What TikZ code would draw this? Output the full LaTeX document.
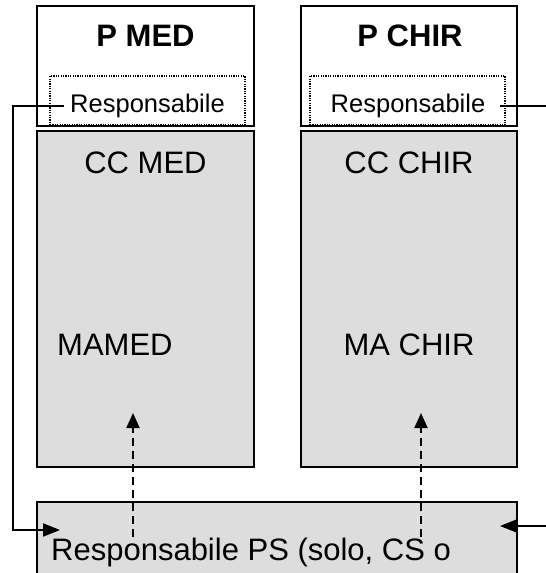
\documentclass[tikz,border=0pt]{standalone}
\usepackage{fontspec}
\setmainfont{Liberation Sans}
\usetikzlibrary{arrows.meta}
\definecolor{boxgrey}{HTML}{DDDDDD}
\begin{document}
\begin{tikzpicture}[x=1pt,y=-1pt,
  box/.style={draw, line width=2pt, inner sep=0pt, fill=white},
  greybox/.style={box, fill=boxgrey},
  dotbox/.style={draw, line width=1.2pt, dash pattern=on 1.2pt off 1.2pt, inner sep=0pt},
  big/.style={inner sep=0pt, anchor=base, font=\fontsize{31}{31}\selectfont},
  bigbold/.style={inner sep=0pt, anchor=base, font=\fontsize{31}{31}\selectfont\bfseries},
  small/.style={inner sep=0pt, font=\fontsize{25.5}{25.5}\selectfont},
  conn/.style={line width=2pt},
  tip/.style={-{Triangle[length=17pt,width=13pt]}},
  dashtip/.style={line width=2pt, dash pattern=on 8pt off 5pt,
                  -{Triangle[length=15pt,width=13pt]}}]
\useasboundingbox (0,0) rectangle (546,573);
\clip (0,0) rectangle (546,573);

% upper boxes
\node[box, minimum width=217pt, minimum height=120pt] (pmed)  at (145.5,66) {};
\node[box, minimum width=216pt, minimum height=120pt] (pchir) at (409,66) {};
\node[dotbox, minimum width=195pt, minimum height=49pt] (dmed)  at (147.5,100.5) {};
\node[dotbox, minimum width=195pt, minimum height=49pt] (dchir) at (407.5,100.5) {};

% grey boxes
\node[greybox, minimum width=217pt, minimum height=336pt] (ccmed)  at (145.5,299) {};
\node[greybox, minimum width=216pt, minimum height=336pt] (ccchir) at (409,299) {};
\node[greybox, minimum width=480pt, minimum height=100pt] (ps) at (277,552) {};

% labels
\node[bigbold] (tmed)  at (145.5,46) {P MED};
\node[bigbold] (tchir) at (410,46) {P CHIR};
\node[small] (respL) at (147.5,106) {Responsabile};
\node[small] (respR) at (408,106) {Responsabile};
\node[big] (tccmed)  at (145.5,173) {CC MED};
\node[big] (tccchir) at (409,173) {CC CHIR};
\node[big, anchor=base west] (tmamed) at (57,355) {MAMED};
\node[big] (tmachir) at (409,355) {MA CHIR};
\node[big, anchor=base west] (tps) at (51,560) {Responsabile PS (solo, CS o};

% connectors
\coordinate (lbend) at (13,530);
\coordinate (lend)  at (60,530);
\coordinate (rout)  at (546,106);
\coordinate (rin)   at (546,526);
\coordinate (rend)  at (500,526);
\draw[conn, tip] ([xshift=-6pt]respL.west) -| (lbend) -- (lend);
\draw[conn] ([xshift=15pt]respR.east) -- (rout);
\draw[conn, tip] (rin) -- (rend);

\coordinate (d1s) at (133,537);
\coordinate (d1e) at (133,413);
\coordinate (d2s) at (421,537);
\coordinate (d2e) at (421,413);
\draw[dashtip] (d1s) -- (d1e);
\draw[dashtip] (d2s) -- (d2e);
\end{tikzpicture}
\end{document}
